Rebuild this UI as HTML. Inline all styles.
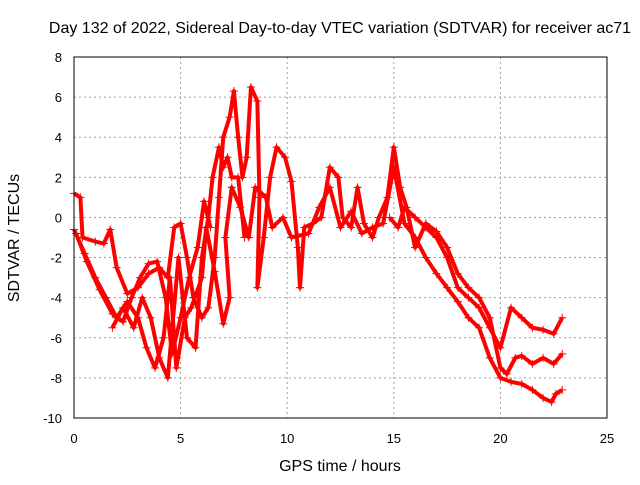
<!DOCTYPE html>
<html><head><meta charset="utf-8"><style>
body{margin:0;background:#fff;}
svg text{font-family:"Liberation Sans",sans-serif;font-size:13px;fill:#000;}
svg text.big{font-size:16px;}
</style></head><body>
<svg id="c" width="640" height="480">
<text class="big" x="340" y="33" text-anchor="middle">Day 132 of 2022, Sidereal Day-to-day VTEC variation (SDTVAR) for receiver ac71</text>
<text class="big" x="340" y="471" text-anchor="middle">GPS time / hours</text>
<text class="big" transform="translate(19,238) rotate(-90)" text-anchor="middle">SDTVAR / TECUs</text>
<g id="grid"></g><g id="ticks"></g><g id="marks"></g>
<rect x="74" y="57" width="533" height="361" fill="none" stroke="#000"/>
</svg>
<script>
const xTicks=[0,5,10,15,20,25];
const yTicks=[-10,-8,-6,-4,-2,0,2,4,6,8];
const trackB=[[0,1.2],[0.3,1],[0.4,-1],[1,-1.2],[1.4,-1.3],[1.7,-0.6],[2,-2.5],[2.5,-3.8],[3,-3.5],[3.5,-2.8],[4,-2.5],[4.4,-3],[4.7,-0.5],[5,-0.3],[5.3,-2],[5.6,-4],[6,-5],[6.3,-4.5],[6.6,-2],[6.8,1],[7,4],[7.3,5],[7.5,6.3],[7.7,4],[7.9,2],[8.1,3],[8.3,6.5],[8.6,5.8],[8.7,1],[8.6,-3.5],[8.9,-1],[9.2,2],[9.5,3.5],[9.9,3],[10.2,1.8],[10.5,-1.5],[10.6,-3.5],[10.8,-0.5],[11.2,-0.3],[11.6,0],[12,2.5],[12.4,2],[12.6,0],[13,-0.5],[13.3,1.5],[13.6,-0.3],[14,-1],[14.3,0],[14.7,1],[15,3.5],[15.3,1.5],[15.6,0.5],[16,-1.5],[16.5,-0.3],[17,-0.7],[17.5,-1.5],[18,-2.8],[18.5,-3.5],[19,-4],[19.5,-5],[20,-7.5],[20.3,-7.8],[20.7,-7],[21,-6.9],[21.5,-7.3],[22,-7],[22.5,-7.3],[22.9,-6.8]];
const trackC=[[0,-0.6],[0.5,-1.8],[1,-3],[1.5,-4],[2,-5],[2.5,-4.2],[3,-5],[3.4,-6.5],[3.8,-7.5],[4.2,-6],[4.5,-3],[4.8,-7.5],[5.2,-5],[5.5,-4.5],[6,-3],[6.2,-0.5],[6.6,-2.7],[7,-5.3],[7.3,-4],[7.1,-1],[7.4,1.5],[7.8,0.5],[8.2,-1],[8.5,1.5],[9,1],[9.3,-0.5],[9.8,0],[10.2,-1],[11,-0.8],[11.5,0.5],[12,1.5],[12.5,-0.5],[13,0.3],[13.5,-0.8],[14,-0.5],[14.5,-0.3],[15,2.5],[15.5,-0.3],[16,-1],[16.5,-2],[17,-2.8],[17.5,-3.5],[18,-4.2],[18.5,-5],[19,-5.5],[19.5,-7],[20,-8],[20.5,-8.2],[21,-8.3],[21.5,-8.6],[22,-9],[22.4,-9.2],[22.6,-8.8],[22.9,-8.6]];
const trackD=[[14.8,0],[15.2,-0.5],[15.5,0.5],[16,0],[16.5,-0.5],[17,-1],[17.5,-2],[18,-3.5],[18.5,-4],[19,-4.5],[19.5,-5.5],[20,-6.5],[20.5,-4.5],[21,-5],[21.5,-5.5],[22,-5.6],[22.5,-5.8],[22.9,-5]];
const trackE=[[1.8,-5.5],[2.3,-4.5],[2.8,-5.5],[3.2,-4],[3.6,-5],[4,-7],[4.4,-8],[4.9,-2],[5.3,-6],[5.7,-6.5],[6,-2],[6.3,0],[6.5,2],[6.8,3.5],[7,2.5],[7.2,3],[7.4,2],[7.7,2],[8,-1]];
const trackF=[[0.1,-0.8],[0.6,-2.2],[1.2,-3.6],[1.8,-4.8],[2.3,-5.2],[2.7,-4],[3.1,-3],[3.5,-2.3],[3.9,-2.2],[4.3,-4],[4.6,-6.8],[5,-5],[5.4,-3],[5.8,-1.5],[6.1,0.8],[6.4,-0.5]];
const NS="http://www.w3.org/2000/svg";
const X=v=>74+v*533/25, Y=v=>418-(v+10)*361/18;
const grid=document.getElementById('grid'),ticks=document.getElementById('ticks'),marks=document.getElementById('marks');
function mk(tag,at,parent){const e=document.createElementNS(NS,tag);for(const k in at)e.setAttribute(k,at[k]);parent.appendChild(e);return e;}
xTicks.forEach(t=>{
 if(t>0&&t<25){const g=mk('line',{x1:X(t),x2:X(t),y1:57,y2:418,stroke:'#a0a0a0','stroke-dasharray':'2,3'},grid);
 
 }
 const l=mk('text',{x:X(t),y:443,'text-anchor':'middle'},ticks);l.textContent=t;
 
 
});
yTicks.forEach(t=>{
 if(t>-10&&t<8){const g=mk('line',{x1:74,x2:607,y1:Y(t),y2:Y(t),stroke:'#a0a0a0','stroke-dasharray':'2,3'},grid);
 
 }
 const l=mk('text',{x:62,y:Y(t)+5,'text-anchor':'end'},ticks);l.textContent=t;
 
 
});
[trackB,trackC,trackD,trackE,trackF].forEach((tr,i)=>{
 const p=mk('polyline',{points:tr.map(d=>X(d[0])+','+Y(d[1])).join(' '),fill:'none',stroke:'#f00','stroke-width':4,'stroke-linejoin':'round'},marks);
 
 
 tr.forEach(d=>{
  const m=mk('path',{d:`M${X(d[0])-4},${Y(d[1])}h8M${X(d[0])},${Y(d[1])-4}v8`,stroke:'#f00','stroke-width':1},marks);
  
  
 });
});
</script>
</body></html>
